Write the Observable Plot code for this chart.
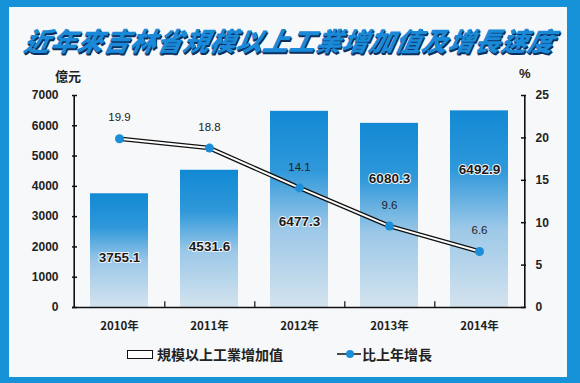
<!DOCTYPE html>
<html>
<head>
<meta charset="utf-8">
<script src="https://cdn.jsdelivr.net/npm/d3@7"></script>
<script src="https://cdn.jsdelivr.net/npm/@observablehq/plot@0.6"></script>
<style>
  html, body { margin: 0; padding: 0; }
  body { width: 580px; height: 383px; overflow: hidden; font-family: "Liberation Sans", Arial, sans-serif; }
  #wrap { position: relative; width: 580px; height: 383px; background: #1592d8; }
  #panel { position: absolute; left: 9px; top: 7px; width: 558px; height: 370px; background: #f6f8fa; }
  #title { position: absolute; left: 0; top: 24px; width: 580px; text-align: center;
    font-family: "Noto Sans CJK TC", sans-serif; font-weight: 900; font-style: italic; font-size: 26px;
    color: #1a8ad8; text-shadow: 1.5px 1.5px 0 #0b2f5e, 0.5px 0.5px 0 #0b2f5e; letter-spacing: 0.5px;
    transform: skewX(-12deg); line-height: 32px; }
  #chart { position: absolute; left: 0; top: 0; }
  .unit { position: absolute; font-family: "Noto Sans CJK TC", sans-serif; font-weight: 700; font-size: 13px; color: #222; }
  #legend { position: absolute; top: 344px; left: 0; width: 580px; font-family: "Noto Sans CJK TC", sans-serif;
    font-weight: 700; font-size: 14px; color: #222; }
  .lg { position: absolute; display: flex; align-items: center; height: 20px; }
  .box { width: 24px; height: 7px; border: 1.5px solid #111; background: #fff; margin-right: 4px; }
</style>
</head>
<body>
<div id="wrap">
  <div id="panel"></div>
  <div id="title">近年來吉林省規模以上工業增加值及增長速度</div>
  <div class="unit" style="left:55px; top:66px;">億元</div>
  <div class="unit" style="left:519px; top:66px; font-family:'Liberation Sans',Arial,sans-serif;">%</div>
  <div id="chart"></div>
  <div id="legend">
    <div class="lg" style="left:127px;"><div class="box"></div>規模以上工業增加值</div>
    <div class="lg" style="left:337px;">
      <svg width="24" height="12" style="margin-right:1px"><line x1="0" y1="6" x2="24" y2="6" stroke="#111" stroke-width="1.5"/><circle cx="13" cy="6" r="4" fill="#1a8ed8"/></svg>比上年增長
    </div>
  </div>
</div>
<script>
const years = ["2010年", "2011年", "2012年", "2013年", "2014年"];
const valueAdded = [3755.1, 4531.6, 6477.3, 6080.3, 6492.9];
const growth = [19.9, 18.8, 14.1, 9.6, 6.6];
const leftTicks = [0, 1000, 2000, 3000, 4000, 5000, 6000, 7000];
const rightTicks = [0, 5, 10, 15, 20, 25];

const k = 7000 / 25; // maps percent onto the left scale
const rows = years.map((y, i) => ({year: y, value: valueAdded[i], growth: growth[i]}));
// value labels sit in the lower part of a bar, or higher up when the growth line passes below the bar's middle
const labelAt = d => (d.growth * k < d.value * 0.5 ? d.value * 0.7 : d.value * 0.44);

const defs = () => {
  const d = d3.create("svg:defs");
  const g = d.append("linearGradient").attr("id", "barGrad").attr("x1", 0).attr("y1", 0).attr("x2", 0).attr("y2", 1);
  g.append("stop").attr("offset", "0%").attr("stop-color", "#1289d4");
  g.append("stop").attr("offset", "30%").attr("stop-color", "#2f98da");
  g.append("stop").attr("offset", "60%").attr("stop-color", "#9cc8e8");
  g.append("stop").attr("offset", "100%").attr("stop-color", "#d3e3ee");
  return d.node();
};

const step = 453 / 5;

const chart = Plot.plot({
  width: 580,
  height: 383,
  marginLeft: 72,
  marginRight: 55,
  marginTop: 95,
  marginBottom: 76,
  style: {background: "transparent", fontFamily: "'Liberation Sans', Arial, sans-serif", color: "#222"},
  x: {domain: years, paddingInner: 0.36, paddingOuter: 0.18, label: null},
  y: {domain: [0, 7000], label: null},
  marks: [
    defs,
    Plot.barY(rows, {x: "year", y: "value", fill: "url(#barGrad)"}),
    Plot.axisY(leftTicks, {anchor: "left", tickSize: -5, tickPadding: 19, stroke: "#111", strokeWidth: 1.5,
      fontWeight: "bold", fontSize: 12, tickFormat: d => String(d)}),
    Plot.axisY(rightTicks.map(v => v * k), {anchor: "right", tickSize: -5, tickPadding: 15, stroke: "#111", strokeWidth: 1.5,
      fontWeight: "bold", fontSize: 12, tickFormat: d => String(Math.round(d / k))}),
    Plot.ruleX([years[0]], {x: d => d, y1: 0, y2: 7000, dx: -step / 2, stroke: "#111", strokeWidth: 1.6}),
    Plot.ruleX([years[4]], {x: d => d, y1: 0, y2: 7000, dx: step / 2, stroke: "#111", strokeWidth: 1.6}),
    Plot.ruleY([0], {stroke: "#111", strokeWidth: 1.6}),
    Plot.ruleX(years.slice(0, 4), {x: d => d, y1: 0, y2: 190, dx: step / 2, stroke: "#111", strokeWidth: 1.2}),
    Plot.axisX({tickSize: 0, tickPadding: 14, fontWeight: "bold", fontSize: 11.5, fontFamily: "'Noto Sans CJK TC', sans-serif"}),
    Plot.text(rows, {x: "year", y: labelAt, text: d => d.value.toFixed(1), fontWeight: "bold", fontSize: 13.5,
      fill: "#1a1a1a", stroke: "#eef4f8", strokeWidth: 2, paintOrder: "stroke", letterSpacing: "1px"}),
    Plot.line(rows, {x: "year", y: d => d.growth * k, stroke: "#111", strokeWidth: 4.5}),
    Plot.line(rows, {x: "year", y: d => d.growth * k, stroke: "#fff", strokeWidth: 2}),
    Plot.dot(rows, {x: "year", y: d => d.growth * k, r: 4.5, fill: "#1a8ed8"}),
    Plot.text(rows, {x: "year", y: d => d.growth * k, dy: -21, text: d => d.growth.toFixed(1), fontSize: 11.5,
      fill: "#222", letterSpacing: "1px"})
  ]
});
document.getElementById("chart").appendChild(chart);
</script>
</body>
</html>
